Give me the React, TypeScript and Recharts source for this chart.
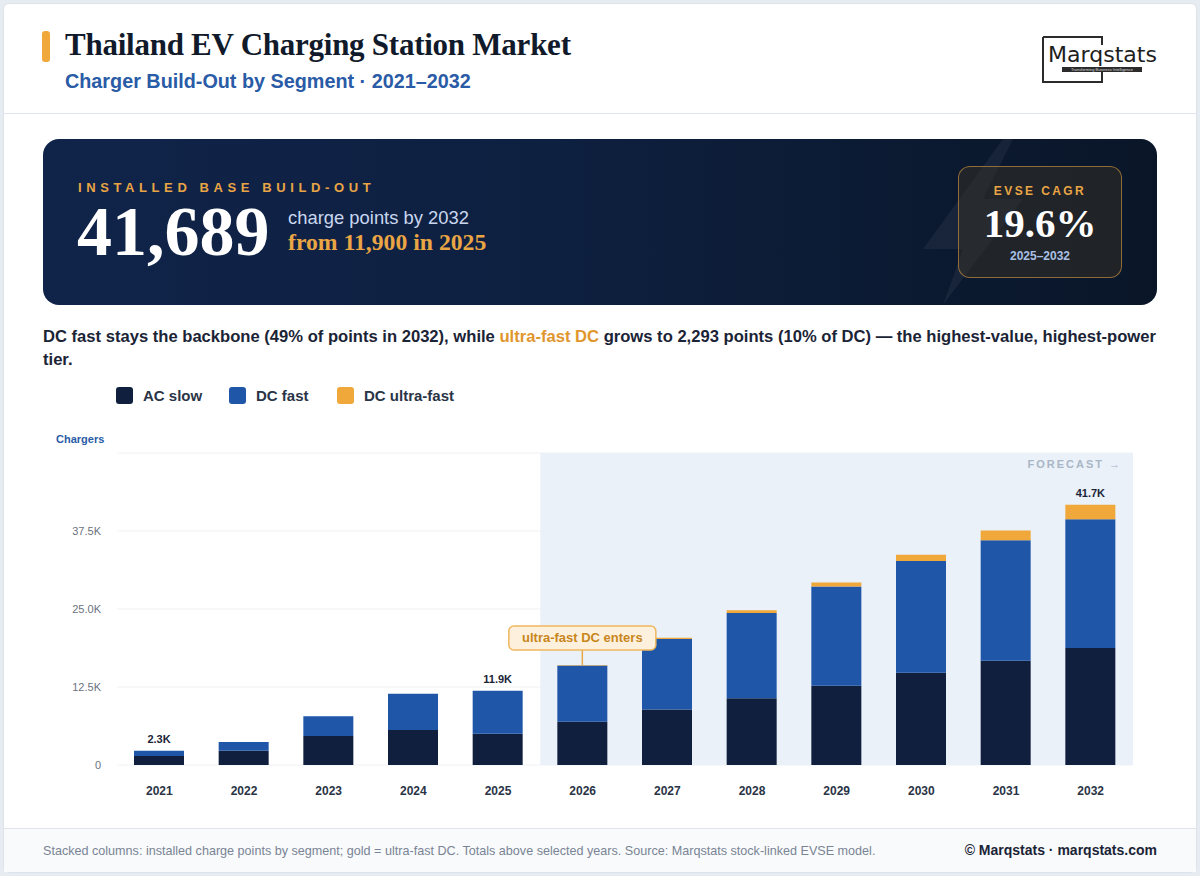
import React from 'react';
import { BarChart, Bar, XAxis, YAxis, CartesianGrid, ReferenceArea, LabelList } from 'recharts';

const years = ['2021', '2022', '2023', '2024', '2025', '2026', '2027', '2028', '2029', '2030', '2031', '2032'];
const acSlow = [1450, 2300, 4650, 5600, 5000, 6950, 8900, 10700, 12700, 14800, 16700, 18757];
const dcFast = [850, 1400, 3150, 5800, 6900, 9000, 11300, 13650, 15900, 17900, 19300, 20639];
const ultraFast = [0, 0, 0, 0, 0, 80, 200, 450, 650, 1000, 1600, 2293];
const totalLabels = ['2.3K', '', '', '', '11.9K', '', '', '', '', '', '', '41.7K'];
const noteLabels = ['', '', '', '', '', 'ultra-fast DC enters', '', '', '', '', '', ''];
const yTicks = [0, 12500, 25000, 37500, 50000];
const yTickLabels = ['0', '12.5K', '25.0K', '37.5K', ''];

const data = years.map((y, i) => ({
  year: y,
  ac: acSlow[i],
  dc: dcFast[i],
  ultra: ultraFast[i],
  labelDc: ultraFast[i] === 0 ? totalLabels[i] : '',
  labelUf: ultraFast[i] > 0 ? totalLabels[i] : '',
  note: noteLabels[i],
}));

const C_AC = '#0f1f3d';
const C_DC = '#1f56a8';
const C_UF = '#f0a83a';
const SANS = '"Liberation Sans", Arial, sans-serif';
const SERIF = '"Liberation Serif", "Times New Roman", serif';

const TotalLabel = (props: any) => {
  const { x, y, width, value } = props;
  if (!value) return null;
  return (
    <text x={Number(x) + Number(width) / 2} y={Number(y) - 8} textAnchor="middle" fontFamily={SANS} fontWeight={700} fontSize={11} fill="#1b2436">
      {value}
    </text>
  );
};

const NoteLabel = (props: any) => {
  const { x, y, width, value } = props;
  if (!value) return null;
  const cx = Number(x) + Number(width) / 2;
  const top = Number(y);
  const bw = 147;
  const bh = 24;
  return (
    <g>
      <line x1={cx} y1={top - 15} x2={cx} y2={top} stroke="#e9a948" strokeWidth={1.5} />
      <rect x={cx - bw / 2} y={top - 15 - bh} width={bw} height={bh} rx={5} fill="#fdf1de" stroke="#f0b75e" strokeWidth={1.5} />
      <text x={cx} y={top - 15 - bh / 2 + 4.5} textAnchor="middle" fontFamily={SANS} fontWeight={700} fontSize={13} fill="#c8861c">
        {value}
      </text>
    </g>
  );
};

export default function App() {
  return (
    <div style={{ position: 'relative', width: 1200, height: 876, background: '#e7ecf2', fontFamily: SANS, overflow: 'hidden' }}>
      <style>{'body{margin:0}'}</style>
      <div style={{ position: 'absolute', left: 3, top: 3, width: 1192, height: 868, background: '#ffffff', border: '1px solid #dde3ea', borderRadius: 6, overflow: 'hidden' }} />

      {/* Header */}
      <div style={{ position: 'absolute', left: 42, top: 31, width: 8, height: 31, background: C_UF, borderRadius: 3 }} />
      <div style={{ position: 'absolute', left: 65, top: 27, fontFamily: SERIF, fontWeight: 700, fontSize: 31, color: '#111a2b', whiteSpace: 'nowrap', letterSpacing: -0.25 }}>
        Thailand EV Charging Station Market
      </div>
      <div style={{ position: 'absolute', left: 65, top: 70, fontWeight: 700, fontSize: 19.8, color: '#2a5ba6', whiteSpace: 'nowrap' }}>
        Charger Build-Out by Segment · 2021–2032
      </div>
      {/* Logo */}
      <svg style={{ position: 'absolute', left: 1036, top: 34 }} width={130} height={54}>
        <path d="M 7 3 L 66 3 L 66 11" fill="none" stroke="#2b2b2b" strokeWidth={2} />
        <path d="M 7 3 L 7 48 L 66 48 L 66 38" fill="none" stroke="#2b2b2b" strokeWidth={2} />
        <text x={12} y={28} fontFamily={'"DejaVu Sans", sans-serif'} fontSize={21} fill="#1e1e1e" textLength={109} lengthAdjust="spacingAndGlyphs">Marqstats</text>
        <rect x={26} y={33} width={80} height={5} fill="#2b2b2b" />
        <text x={66} y={37} textAnchor="middle" fontSize={4} fill="#ddd">Transforming Business Intelligence</text>
      </svg>
      <div style={{ position: 'absolute', left: 4, top: 113, width: 1192, height: 1, background: '#dfe5ec' }} />

      {/* Banner */}
      <div style={{ position: 'absolute', left: 43, top: 139, width: 1114, height: 166, borderRadius: 16, background: 'linear-gradient(90deg, #10244a 0%, #0e2040 45%, #0a1628 100%)', overflow: 'hidden' }}>
        <svg style={{ position: 'absolute', left: 860, top: 0 }} width={140} height={166}>
          <polygon points="100,0 20,110 60,110 40,166 120,60 80,60 110,0" fill="#ffffff" opacity={0.05} />
        </svg>
        <div style={{ position: 'absolute', left: 35, top: 41, fontWeight: 700, fontSize: 13, letterSpacing: 4.6, color: '#e9a545', whiteSpace: 'nowrap' }}>
          INSTALLED BASE BUILD-OUT
        </div>
        <div style={{ position: 'absolute', left: 34, top: 53, fontFamily: SERIF, fontWeight: 700, fontSize: 70, color: '#ffffff', whiteSpace: 'nowrap', lineHeight: '80px' }}>
          41,689
        </div>
        <div style={{ position: 'absolute', left: 245, top: 68, fontSize: 18.4, color: '#c9d7ef', whiteSpace: 'nowrap' }}>
          charge points by 2032
        </div>
        <div style={{ position: 'absolute', left: 245, top: 90, fontFamily: SERIF, fontWeight: 700, fontSize: 23.7, color: '#eaa544', whiteSpace: 'nowrap' }}>
          from 11,900 in 2025
        </div>
        <div style={{ position: 'absolute', left: 915, top: 27, width: 164, height: 112, borderRadius: 12, border: '1px solid rgba(233,165,69,0.55)', background: 'rgba(60,50,35,0.45)', boxSizing: 'border-box' }}>
          <div style={{ position: 'absolute', left: 0, width: '100%', top: 17, textAlign: 'center', fontWeight: 700, fontSize: 12, letterSpacing: 2.4, color: '#e9a545' }}>EVSE CAGR</div>
          <div style={{ position: 'absolute', left: 0, width: '100%', top: 31, textAlign: 'center', fontFamily: SERIF, fontWeight: 700, fontSize: 41, color: '#ffffff', lineHeight: '50px' }}>19.6%</div>
          <div style={{ position: 'absolute', left: 0, width: '100%', top: 82, textAlign: 'center', fontWeight: 700, fontSize: 12, color: '#a9c0e4' }}>2025–2032</div>
        </div>
      </div>

      {/* Narrative */}
      <div style={{ position: 'absolute', left: 43, top: 325, fontWeight: 700, fontSize: 16.6, lineHeight: '23px', color: '#1b2436', whiteSpace: 'nowrap' }}>
        <span>DC fast stays the backbone (49% of points in 2032), while </span>
        <span style={{ color: '#e0962e' }}>ultra-fast DC</span>
        <span> grows to 2,293 points (10% of DC) — the highest-value, highest-power</span>
      </div>
      <div style={{ position: 'absolute', left: 43, top: 348, fontWeight: 700, fontSize: 16.6, lineHeight: '23px', color: '#1b2436', whiteSpace: 'nowrap' }}>
        tier.
      </div>

      {/* Legend */}
      {[
        { label: 'AC slow', color: C_AC, x: 116 },
        { label: 'DC fast', color: C_DC, x: 229 },
        { label: 'DC ultra-fast', color: C_UF, x: 337 },
      ].map((l) => (
        <div key={l.label} style={{ position: 'absolute', left: l.x, top: 387, display: 'flex', alignItems: 'center', whiteSpace: 'nowrap' }}>
          <div style={{ width: 17, height: 17, borderRadius: 3, background: l.color, marginRight: 10 }} />
          <span style={{ fontWeight: 700, fontSize: 15, color: '#2a3446' }}>{l.label}</span>
        </div>
      ))}

      <div style={{ position: 'absolute', left: 56, top: 433, fontWeight: 700, fontSize: 11, color: '#2a5ba6' }}>Chargers</div>

      {/* Chart */}
      <div style={{ position: 'absolute', left: 0, top: 430 }}>
        <BarChart width={1160} height={380} data={data} margin={{ top: 23, right: 27, bottom: 5, left: 57 }} barSize={50}>
          <ReferenceArea x1="2026" x2="2032" y1={0} y2={50000} fill="#eaf1f9" fillOpacity={1} stroke="none" ifOverflow="visible" />
          <CartesianGrid vertical={false} stroke="#eef1f5" strokeWidth={1} />
          <XAxis dataKey="year" axisLine={false} tickLine={false} height={40} tickMargin={15} tick={{ fontFamily: SANS, fontWeight: 700, fontSize: 12, fill: '#2a3446' }} interval={0} />
          <YAxis width={60} domain={[0, 50000]} ticks={yTicks} axisLine={false} tickLine={false} tickMargin={10}
            tickFormatter={(v: number) => yTickLabels[yTicks.indexOf(v)] ?? ''}
            tick={{ fontFamily: SANS, fontSize: 11, fill: '#6b7280' }} />
          <Bar dataKey="ac" stackId="s" fill={C_AC} isAnimationActive={false} />
          <Bar dataKey="dc" stackId="s" fill={C_DC} isAnimationActive={false}>
            <LabelList dataKey="labelDc" content={TotalLabel} />
          </Bar>
          <Bar dataKey="ultra" stackId="s" fill={C_UF} isAnimationActive={false}>
            <LabelList dataKey="labelUf" content={TotalLabel} />
            <LabelList dataKey="note" content={NoteLabel} />
          </Bar>
        </BarChart>
      </div>
      <div style={{ position: 'absolute', left: 1000, top: 458, width: 122, textAlign: 'right', fontWeight: 700, fontSize: 11, letterSpacing: 2, color: '#a9b6c6', whiteSpace: 'nowrap' }}>
        FORECAST →
      </div>

      {/* Footer */}
      <div style={{ position: 'absolute', left: 4, top: 828, width: 1192, height: 43, background: '#f8fafc', borderTop: '1px solid #dfe5ec' }} />
      <div style={{ position: 'absolute', left: 43, top: 844, fontSize: 12.6, color: '#7a8494', whiteSpace: 'nowrap' }}>
        Stacked columns: installed charge points by segment; gold = ultra-fast DC. Totals above selected years. Source: Marqstats stock-linked EVSE model.
      </div>
      <div style={{ position: 'absolute', right: 43, top: 842, fontWeight: 700, fontSize: 14, color: '#1b2436', whiteSpace: 'nowrap' }}>
        © Marqstats · marqstats.com
      </div>
    </div>
  );
}
